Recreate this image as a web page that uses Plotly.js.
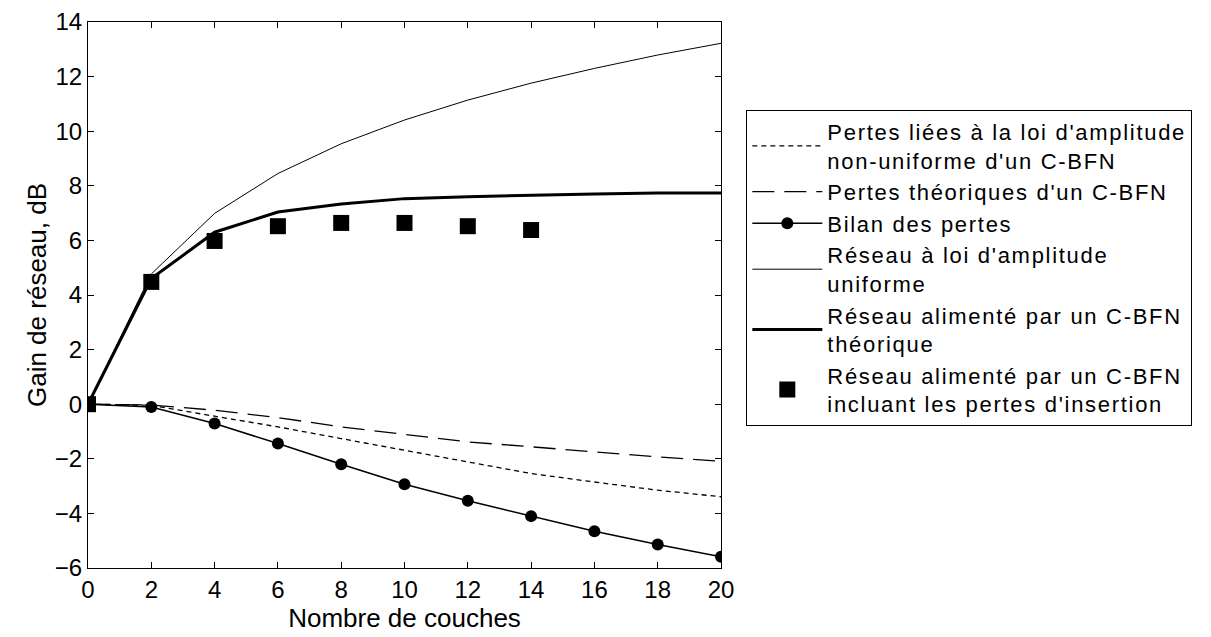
<!DOCTYPE html>
<html>
<head>
<meta charset="utf-8">
<script src="https://cdn.plot.ly/plotly-3.0.1.min.js"></script>
<style>
html,body{margin:0;padding:0;background:#fff;}
#chart{width:1211px;height:637px;}
.legendtext{letter-spacing:1.7px;}
</style>
</head>
<body>
<div id="chart"></div>
<script>
const layers = [0, 2, 4, 6, 8, 10, 12, 14, 16, 18, 20];
const lossAmplitude = [0, -0.04, -0.44, -0.83, -1.26, -1.68, -2.11, -2.54, -2.85, -3.15, -3.39];
const lossTheory = [0, -0.03, -0.22, -0.49, -0.83, -1.1, -1.38, -1.56, -1.75, -1.93, -2.09];
const lossTotal = [0, -0.1, -0.71, -1.44, -2.2, -2.93, -3.54, -4.1, -4.65, -5.14, -5.59];
const gainUniform = [0, 4.77, 6.99, 8.45, 9.54, 10.41, 11.14, 11.76, 12.3, 12.79, 13.22];
const gainCBFN = [0, 4.6, 6.3, 7.04, 7.33, 7.53, 7.6, 7.66, 7.7, 7.74, 7.74];
const layersMeas = [0, 2, 4, 6, 8, 10, 12, 14];
const gainMeas = [0, 4.48, 5.98, 6.52, 6.64, 6.64, 6.52, 6.38];
const yTicks = [-6, -4, -2, 0, 2, 4, 6, 8, 10, 12, 14];

const names = [
  "Pertes liées à la loi d'amplitude<br>non-uniforme d'un C-BFN",
  "Pertes théoriques d'un C-BFN",
  "Bilan des pertes",
  "Réseau à loi d'amplitude<br>uniforme",
  "Réseau alimenté par un C-BFN<br>théorique",
  "Réseau alimenté par un C-BFN<br>incluant les pertes d'insertion"
];

const traces = [
  {x: layers, y: lossAmplitude, name: names[0], mode: 'lines', line: {color: '#000', width: 1.3, dash: '5px,4px'}},
  {x: layers, y: lossTheory, name: names[1], mode: 'lines', line: {color: '#000', width: 1.3, dash: '22px,10px'}},
  {x: layers, y: lossTotal, name: names[2], mode: 'lines+markers', line: {color: '#000', width: 1.5}, marker: {symbol: 'circle', size: 12, color: '#000'}},
  {x: layers, y: gainUniform, name: names[3], mode: 'lines', line: {color: '#000', width: 1}},
  {x: layers, y: gainCBFN, name: names[4], mode: 'lines', line: {color: '#000', width: 3}},
  {x: layersMeas, y: gainMeas, name: names[5], mode: 'markers', marker: {symbol: 'square', size: 16, color: '#000'}}
];

const family = 'Liberation Sans, Arial, sans-serif';
const tickFont = {family: family, size: 24, color: '#000'};
const titleFont = {family: family, size: 26, color: '#000'};

const layout = {
  width: 1211, height: 637,
  margin: {l: 88, r: 490, t: 22, b: 69},
  paper_bgcolor: '#fff', plot_bgcolor: '#fff',
  font: {family: family, size: 24, color: '#000'},
  showlegend: true,
  legend: {
    x: 1.04, y: 0.55, xanchor: 'left', yanchor: 'middle',
    bordercolor: '#000', borderwidth: 1, bgcolor: '#fff',
    font: {family: family, size: 22, color: '#000'},
    itemwidth: 70, tracegroupgap: 0
  },
  xaxis: {
    range: [0, 20], tickvals: layers, ticks: 'inside', ticklen: 6, tickcolor: '#000',
    showline: true, linecolor: '#000', linewidth: 1, mirror: 'ticks', showgrid: false, zeroline: false,
    tickfont: tickFont,
    title: {text: 'Nombre de couches', font: titleFont, standoff: 4}
  },
  yaxis: {
    range: [-6, 14], tickvals: yTicks, ticks: 'inside', ticklen: 6, tickcolor: '#000',
    showline: true, linecolor: '#000', linewidth: 1, mirror: 'ticks', showgrid: false, zeroline: false,
    tickfont: tickFont,
    title: {text: 'Gain de réseau, dB', font: titleFont, standoff: 0}
  }
};

Plotly.newPlot('chart', traces, layout, {displayModeBar: false, staticPlot: true});
</script>
</body>
</html>
